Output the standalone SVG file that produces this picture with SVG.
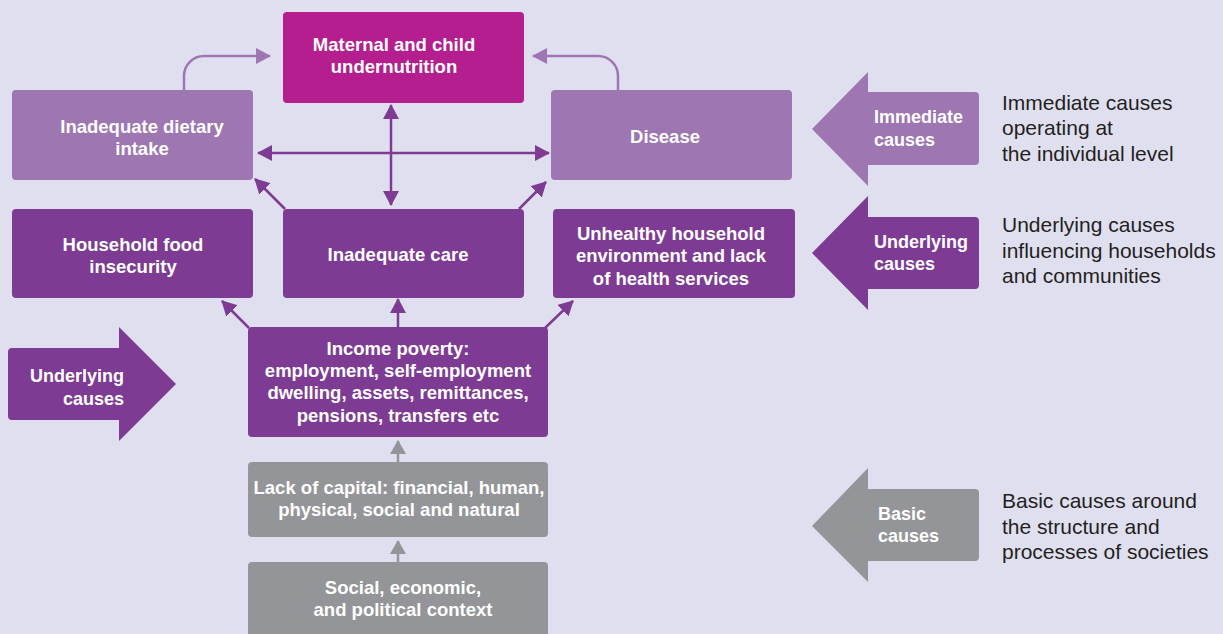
<svg xmlns="http://www.w3.org/2000/svg" width="1223" height="634" viewBox="0 0 1223 634">
<defs>
<style>
.bx{font-family:"Liberation Sans",Arial,sans-serif;font-weight:bold;font-size:18.5px;fill:#fff;text-anchor:middle}
.lb{font-family:"Liberation Sans",Arial,sans-serif;font-weight:bold;font-size:18px;fill:#fff}
.ds{font-family:"Liberation Sans",Arial,sans-serif;font-size:21px;fill:#231f20}
.mag{fill:#b41e8e}
.lp{fill:#9d76b2}
.dp{fill:#7d3b93}
.gr{fill:#939598}
.c{fill:none;stroke-width:2.5}
</style>
<marker id="ad" viewBox="0 0 15 16" refX="14" refY="8" markerWidth="15" markerHeight="16" markerUnits="userSpaceOnUse" orient="auto-start-reverse"><path d="M0,0 L15,8 L0,16 z" fill="#7d3b93"/></marker>
<marker id="al" viewBox="0 0 15 16" refX="14" refY="8" markerWidth="15" markerHeight="16" markerUnits="userSpaceOnUse" orient="auto-start-reverse"><path d="M0,0 L15,8 L0,16 z" fill="#9d76b2"/></marker>
<marker id="ag" viewBox="0 0 14 16" refX="13" refY="8" markerWidth="14" markerHeight="16" markerUnits="userSpaceOnUse" orient="auto"><path d="M0,0 L14,8 L0,16 z" fill="#939598"/></marker>
</defs>
<rect width="1223" height="634" fill="#e0dff0"/>

<g id="connectors">
<path class="c" stroke="#9d76b2" d="M184,90 V76 A20,20 0 0 1 204,56 H270" marker-end="url(#al)"/>
<path class="c" stroke="#9d76b2" d="M618,90 V76 A20,20 0 0 0 598,56 H533" marker-end="url(#al)"/>
<path class="c" stroke="#7d3b93" d="M258,153 H549" marker-start="url(#ad)" marker-end="url(#ad)"/>
<path class="c" stroke="#7d3b93" d="M391,105 V205" marker-start="url(#ad)" marker-end="url(#ad)"/>
<path class="c" stroke="#7d3b93" d="M285,209 L255,179" marker-end="url(#ad)"/>
<path class="c" stroke="#7d3b93" d="M519,209 L546,182" marker-end="url(#ad)"/>
<path class="c" stroke="#7d3b93" d="M249,328 L222,301" marker-end="url(#ad)"/>
<path class="c" stroke="#7d3b93" d="M398,327 V299" marker-end="url(#ad)"/>
<path class="c" stroke="#7d3b93" d="M545,328 L573,301" marker-end="url(#ad)"/>
<path class="c" stroke="#939598" d="M398,462 V441" marker-end="url(#ag)"/>
<path class="c" stroke="#939598" d="M398,562 V541" marker-end="url(#ag)"/>
</g>

<g id="maternal"><rect class="mag" x="283" y="12" width="241" height="91" rx="4"/>
<text class="bx" x="394" y="51">Maternal and child</text><text class="bx" x="394" y="73">undernutrition</text></g>

<g id="dietary"><rect class="lp" x="12" y="90" width="241" height="90" rx="4"/>
<text class="bx" x="142" y="133">Inadequate dietary</text><text class="bx" x="142" y="155">intake</text></g>

<g id="disease"><rect class="lp" x="551" y="90" width="241" height="90" rx="4"/>
<text class="bx" x="665" y="143">Disease</text></g>

<g id="food"><rect class="dp" x="12" y="209" width="241" height="89" rx="4"/>
<text class="bx" x="133" y="251">Household food</text><text class="bx" x="133" y="273">insecurity</text></g>

<g id="care"><rect class="dp" x="283" y="209" width="241" height="89" rx="4"/>
<text class="bx" x="398" y="261">Inadequate care</text></g>

<g id="unhealthy"><rect class="dp" x="553" y="209" width="242" height="89" rx="4"/>
<text class="bx" x="671" y="240">Unhealthy household</text><text class="bx" x="671" y="262">environment and lack</text><text class="bx" x="671" y="285">of health services</text></g>

<g id="income"><rect class="dp" x="248" y="327" width="300" height="110" rx="4"/>
<text class="bx" x="398" y="355">Income poverty:</text><text class="bx" x="398" y="377">employment, self-employment</text><text class="bx" x="398" y="399">dwelling, assets, remittances,</text><text class="bx" x="398" y="422">pensions, transfers etc</text></g>

<g id="capital"><rect class="gr" x="248" y="462" width="300" height="75" rx="4"/>
<text class="bx" x="399" y="494">Lack of capital: financial, human,</text><text class="bx" x="399" y="516">physical, social and natural</text></g>

<g id="context"><rect class="gr" x="248" y="562" width="300" height="80" rx="4"/>
<text class="bx" x="403" y="594">Social, economic,</text><text class="bx" x="403" y="616">and political context</text></g>

<g id="left-underlying"><path class="dp" d="M12,348 H119 V327 L176,384 L119,441 V420 H12 Q8,420 8,416 V352 Q8,348 12,348 Z"/>
<text class="lb" x="124" y="382" text-anchor="end">Underlying</text><text class="lb" x="124" y="405" text-anchor="end">causes</text></g>

<g id="immediate"><path class="lp" d="M812,129 L868,72 V92 H975 Q979,92 979,96 V161 Q979,165 975,165 H868 V186 Z"/>
<text class="lb" x="874" y="123">Immediate</text><text class="lb" x="874" y="146">causes</text>
<text class="ds" x="1002" y="110">Immediate causes</text><text class="ds" x="1002" y="135">operating at</text><text class="ds" x="1002" y="161">the individual level</text></g>

<g id="underlying"><path class="dp" d="M812,253 L868,196 V217 H975 Q979,217 979,221 V285 Q979,289 975,289 H868 V310 Z"/>
<text class="lb" x="874" y="248">Underlying</text><text class="lb" x="874" y="270">causes</text>
<text class="ds" x="1002" y="232">Underlying causes</text><text class="ds" x="1002" y="258">influencing households</text><text class="ds" x="1002" y="283">and communities</text></g>

<g id="basic"><path class="gr" d="M812,526 L868,468 V489 H975 Q979,489 979,493 V557 Q979,561 975,561 H868 V582 Z"/>
<text class="lb" x="878" y="520">Basic</text><text class="lb" x="878" y="542">causes</text>
<text class="ds" x="1002" y="508">Basic causes around</text><text class="ds" x="1002" y="534">the structure and</text><text class="ds" x="1002" y="559">processes of societies</text></g>
</svg>
